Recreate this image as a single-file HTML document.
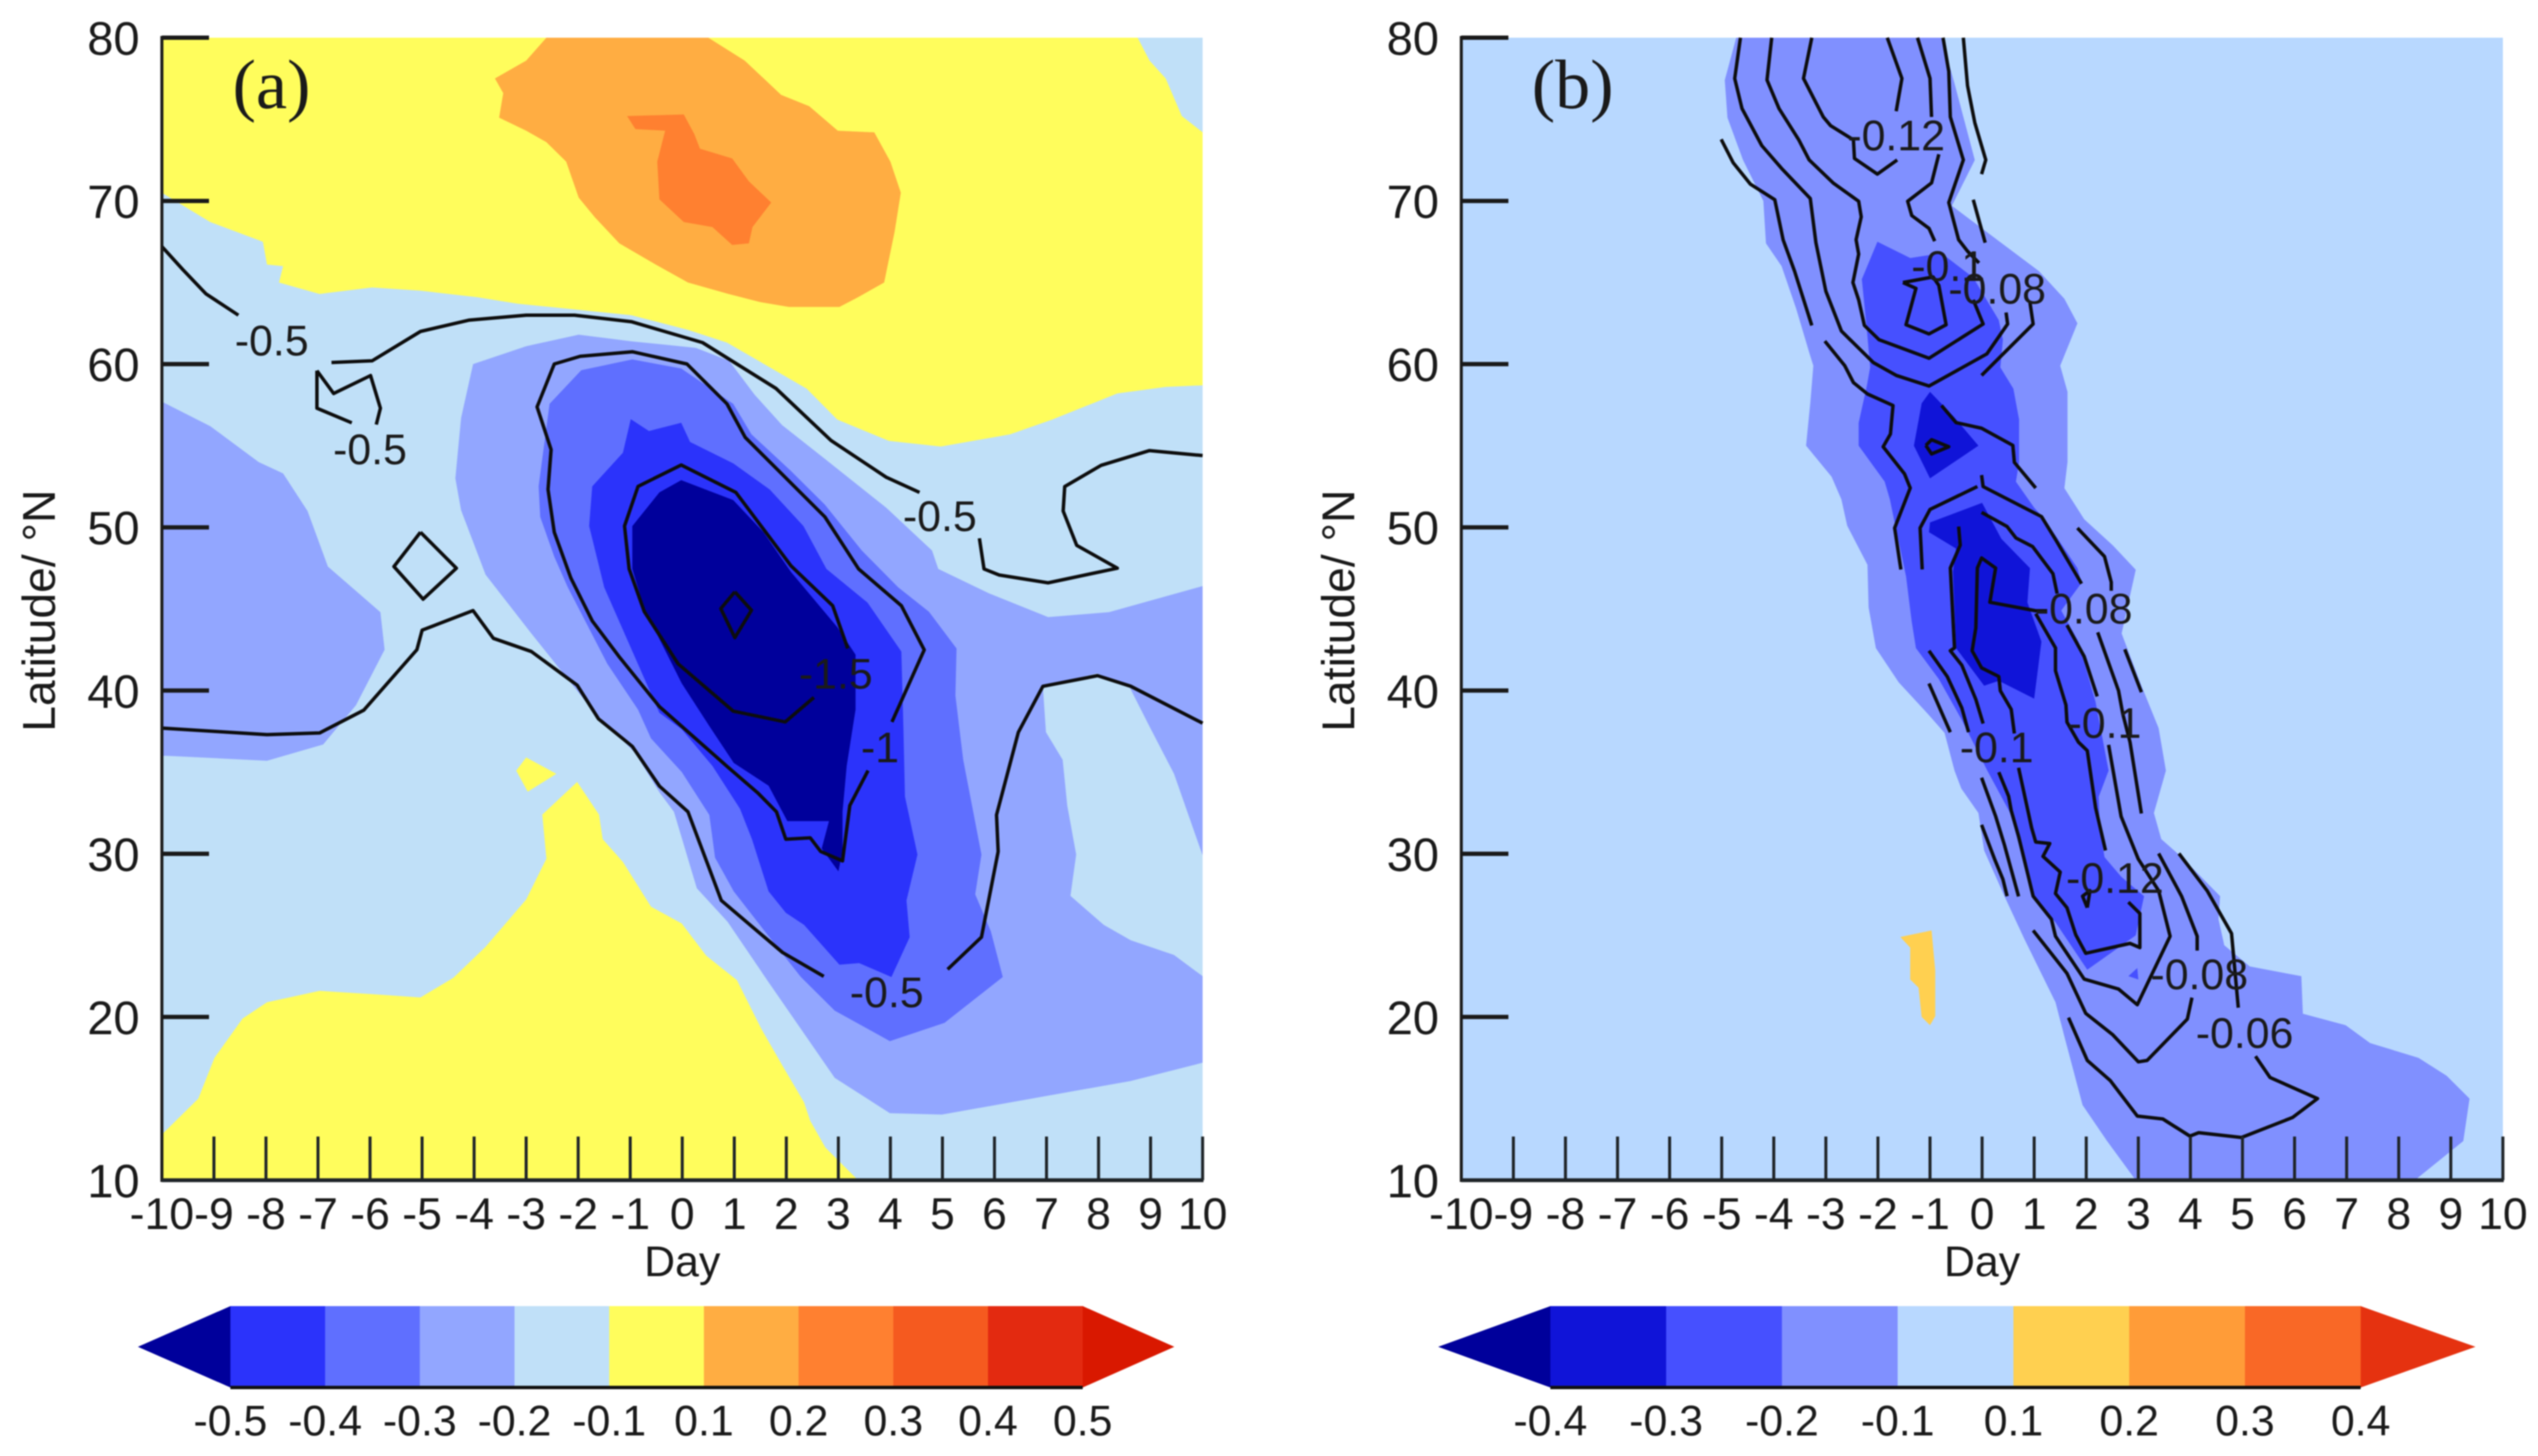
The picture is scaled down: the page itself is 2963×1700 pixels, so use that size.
<!DOCTYPE html>
<html lang="en">
<head>
<meta charset="utf-8">
<title>Latitude-day composite panels</title>
<style>
html,body{margin:0;padding:0;background:#fff;width:2963px;height:1700px;overflow:hidden}
svg{display:block;filter:blur(0.7px)}
text{font-family:"Liberation Sans",sans-serif;fill:#1a1a1a}
</style>
</head>
<body>
<svg id="chart" xmlns="http://www.w3.org/2000/svg" width="2963" height="1700" viewBox="0 0 2963 1700"></svg>
<script>
/* ---------- shared tick data ---------- */
const dayTicks = [-10,-9,-8,-7,-6,-5,-4,-3,-2,-1,0,1,2,3,4,5,6,7,8,9,10];
const latTicks = [80,70,60,50,40,30,20,10];

/* ---------- panel (a) filled regions: [day, latitude] ---------- */
const aYellowNorth = [[-10,70.5],[-9.07,68.7],[-8.06,67.5],[-7.98,66.1],[-7.67,66],[-7.75,65],[-6.97,64.3],[-5.96,64.7],[-5.03,64.5],[-3.94,64.1],[-3.16,63.7],[-2.23,63.4],[-0.98,63],[0.11,62.1],[0.86,61.32],[2.39,58.5],[2.98,56.6],[3.97,55.3],[4.97,54.95],[6.3,55.7],[7.11,56.6],[8.36,58.2],[9.29,58.6],[10,58.7],[10,74.2],[9.6,75.2],[9.29,77.5],[8.98,78.6],[8.75,80],[-10,80]];
const aOrange = [[0.5,80],[1.2,78.6],[1.9,76.5],[2.44,75.8],[2.99,74.3],[3.69,74.2],[4,72.4],[4.2,70.5],[4.08,68.1],[3.88,65],[3.38,64.1],[3.02,63.5],[2.05,63.5],[1.5,63.8],[0.89,64.3],[0.11,65],[-0.51,66.1],[-1.21,67.4],[-1.68,69],[-1.99,70.2],[-2.23,72.4],[-2.61,73.6],[-3,74.3],[-3.52,75.1],[-3.44,76.6],[-3.6,77.5],[-3,78.6],[-2.61,80]];
const aDeepOrange = [[-1.06,75.2],[0.03,75.3],[0.23,74.1],[0.34,73.2],[0.96,72.6],[1.28,71.2],[1.71,69.9],[1.35,68.4],[1.28,67.4],[0.96,67.3],[0.58,68.4],[0.03,68.7],[-0.44,70.1],[-0.48,72.4],[-0.33,74.3],[-0.9,74.4]];
const aYellowSouth = [[-10,12.8],[-9.3,15],[-8.99,17.5],[-8.45,19.9],[-7.98,20.9],[-6.97,21.6],[-5.96,21.4],[-5.03,21.2],[-4.4,22.4],[-3.78,24.3],[-3,27.2],[-2.61,29.7],[-2.69,32.4],[-2.02,34.4],[-1.6,32.4],[-1.53,30.9],[-1.14,29.5],[-0.6,26.76],[-0.01,25.73],[0.46,23.76],[1.05,22.26],[1.52,19.27],[1.93,17],[2.34,14.77],[2.46,13.64],[2.75,12],[3.38,10],[-10,10]];
const aYellowIslet = [[-3,35.9],[-2.42,34.9],[-2.97,33.8],[-3.19,35.1]];
const aWestBlob = [[-10,57.7],[-9.07,56.2],[-8.14,54],[-7.67,53.3],[-7.2,51],[-6.81,47.6],[-5.8,44.8],[-5.72,42.5],[-6.27,39.1],[-6.9,36.7],[-7.98,35.7],[-9.9,36],[-10,36]];
const aMainBlob = [[-4.02,60],[-3,61.1],[-1.99,61.8],[-0.98,61.4],[0.26,61],[0.9,60.2],[1.39,58.13],[1.92,56.26],[2.74,54.2],[3.92,51.2],[4.8,48.58],[4.92,47.45],[5.9,45.95],[7.03,44.5],[8.2,44.8],[10,46.4],[10,17.2],[8.62,16.08],[4.99,14.02],[3.99,14.11],[2.93,16.27],[1.63,22.27],[0.87,25.83],[0.28,27.89],[-0.16,32.57],[-0.44,33.77],[-0.91,36.2],[-1.73,38.83],[-2.9,43.5],[-3.78,47.1],[-4.25,51.05],[-4.36,53],[-4.25,56.7]];
const aEastWedge = [[6.93,40.26],[7.97,41.05],[8.59,40.25],[8.98,37.8],[9.45,34.9],[10,29.9],[10,22.5],[9.45,23.8],[8.62,24.7],[8.1,25.64],[7.46,27.42],[7.57,29.95],[7.4,32.95],[7.31,35.76],[6.99,37.45]];
const aMidBlue = [[-2.55,57.57],[-1.94,59.63],[-0.96,60.29],[-0.02,59.73],[0.98,57.57],[1.33,55.7],[2.09,53.45],[2.74,51.39],[3.45,48.58],[4.15,46.33],[4.74,44.83],[5.27,42.58],[5.25,39.69],[5.4,35.76],[5.75,29.95],[5.63,27.51],[5.93,25.26],[6.16,22.45],[5.04,19.64],[3.99,18.52],[2.93,20.39],[2.28,22.45],[1.63,25.07],[0.99,27.7],[0.63,29.76],[0.52,32.38],[-0.01,35.01],[-0.6,37.07],[-0.85,38.83],[-1.44,41.64],[-2.2,46.33],[-2.46,48.2],[-2.73,50.64],[-2.76,52.51]];
const aStrongBlue = [[-0.99,56.63],[-0.64,55.9],[-0.02,56.41],[0.15,55.23],[0.98,53.92],[1.68,52.32],[2.33,50.08],[2.77,47.45],[3.56,45.39],[4.21,42.39],[4.25,37.63],[4.28,33.51],[4.52,29.95],[4.31,27.14],[4.37,24.89],[4.02,22.45],[3.4,23.3],[3.02,23.2],[2.34,25.64],[1.99,26.39],[1.66,27.7],[1.34,30.89],[1.11,32.76],[0.58,35.38],[-0.01,37.63],[-0.44,38.64],[-1.5,46.33],[-1.79,50.08],[-1.73,52.51],[-1.14,54.57]];
const aNavy = [[-0.02,52.89],[0.98,51.67],[1.56,49.7],[2.09,47.26],[2.98,43.89],[3.33,42.2],[3.33,38.83],[3.16,35.38],[3.08,32.57],[3.08,30.14],[3,28.92],[2.68,30.32],[2.82,32],[2.02,32],[1.66,34.17],[0.99,35.57],[0.52,37.82],[-0.01,40.44],[-0.73,45],[-0.96,47.45],[-0.96,50.08],[-0.44,52.14]];

/* ---------- panel (a) contour lines ---------- */
const aLine1 = [[-10,67.2],[-9.6,65.8],[-9.15,64.3],[-8.53,63]];
const aLine2 = [[-6.74,60.1],[-5.96,60.2],[-5.03,62],[-4.09,62.7],[-3,63],[-2.07,63],[-0.98,62.6],[0.39,61.32],[1.8,58.51],[2.86,55.32],[3.92,53.07],[4.56,52.14]];
const aLine3 = [[5.71,49.33],[5.8,47.45],[6.09,47.08],[7.03,46.6],[8.36,47.5],[7.58,48.9],[7.32,51],[7.35,52.5],[8.05,53.8],[8.98,54.7],[10,54.4]];
const aLine4 = [[-7.02,59.6],[-6.7,58.2],[-5.99,59.3],[-5.8,57.3],[-5.88,56.3]];
const aLine5 = [[-7.02,59.6],[-7.02,57.3],[-6.35,56.4]];
const aLine6 = [[-5.03,49.7],[-4.34,47.5],[-4.98,45.6],[-5.54,47.6],[-5.03,49.7]];
const aLine7 = [[-10,37.7],[-7.98,37.3],[-6.97,37.4],[-6.12,38.8],[-5.1,42.5],[-5,43.7],[-4.02,44.9],[-3.63,43.2],[-2.9,42.39],[-2.02,40.33],[-1.61,38.27],[-0.96,36.58],[-0.44,34.15],[0.11,32.57],[0.75,27.14],[1.93,23.95],[2.72,22.49]];
const aLine8 = [[5.1,22.92],[5.75,24.89],[6.07,30.14],[6.04,32.38],[6.46,37.45],[6.93,40.26],[7.98,40.91],[8.62,40.26],[10,38]];
const aLine9 = [[3.57,35.1],[3.22,32.95],[3.08,29.57],[2.66,30.14],[2.46,30.98],[1.99,30.89],[1.81,32.57],[1.46,33.7],[0.86,35.36],[-0.44,39.02],[-1.2,42.02],[-1.73,44.27],[-2.14,46.89],[-2.46,49.7],[-2.58,52.32],[-2.52,54.76],[-2.79,57.38],[-2.46,60.01],[-1.96,60.48],[-0.96,60.76],[0.09,60.01],[0.86,57.57],[1.21,55.51],[2.74,50.64],[3.39,47.45],[4.21,45.2],[4.65,42.49],[4.03,38.08]];
const aLine10 = [[3.18,42.58],[2.89,45.2],[2.09,47.64],[1.03,52.14],[-0.02,53.82],[-0.85,52.51],[-1.11,50.08],[-1.02,47.45],[-0.73,44.83],[-0.08,41.64],[0.98,38.74],[1.98,38.08],[2.53,39.58]];
const aLine11 = [[1.01,46.05],[1.33,44.92],[1.01,43.24],[0.74,45.02],[1.01,46.05]];
const aLines = [aLine1,aLine2,aLine3,aLine4,aLine5,aLine6,aLine7,aLine8,aLine9,aLine10,aLine11];

/* ---------- panel (b) filled regions ---------- */
const bOuter = [[-4.72,80],[-4.94,77.4],[-4.89,75.1],[-4.59,72.5],[-4.2,70],[-4.15,67.4],[-3.85,66],[-3.57,63.4],[-3.3,60.5],[-3.24,59.9],[-3.3,57.6],[-3.38,55],[-2.89,53.1],[-2.7,51.7],[-2.59,50.1],[-2.2,47.7],[-2.18,45.1],[-2.04,42.6],[-1.6,40.5],[-1.05,38.6],[-0.72,37.4],[-0.53,35.1],[-0.4,34],[-0.07,32.5],[0.04,30.2],[0.43,27.4],[0.81,24.8],[1.41,20.9],[1.58,18.8],[1.93,14.6],[2.4,12.4],[2.95,10],[8.31,10],[9.24,12.4],[9.36,15],[8.92,16.4],[8.38,17.5],[7.45,18.4],[6.98,19.5],[6.16,20.2],[6.13,22.5],[5.14,23.1],[4.65,24.4],[4.54,26],[4.57,27.4],[3.83,29.8],[3.44,30.9],[3.3,32.5],[3.53,35.1],[3.39,37.7],[3.06,40.3],[2.68,43.5],[2.95,47.4],[2.51,48.9],[1.96,50.5],[1.58,52.4],[1.64,54],[1.64,58.3],[1.5,59.9],[1.83,62.5],[1.58,64],[1.09,65.7],[-0.58,69.7],[-0.14,72.5],[-0.53,77.2],[-0.78,80]];
const bMid = [[-2.01,67.5],[-1.38,66.5],[-0.78,66.8],[-0.17,65.3],[0.32,62.7],[0.4,61.5],[0.35,59.8],[0.6,58.5],[0.71,56.6],[0.71,54],[0.65,52.8],[1,51.2],[1.2,50.5],[1.83,47.5],[1.91,46.6],[1.52,44.9],[1.85,43],[2.18,39.3],[2.43,35.1],[2.24,33.5],[2.26,31.6],[2.35,29.8],[2.67,28.6],[3.11,27.4],[2.95,25],[2.02,22.9],[1.41,25.8],[0.98,27.4],[0.54,32.5],[0.1,35.1],[-0.39,38.2],[-0.83,40.7],[-1.27,42.6],[-1.35,44.2],[-1.46,47],[-1.66,50],[-1.77,51.7],[-1.87,52.8],[-2.37,55],[-2.37,56.4],[-2.21,58.7],[-2.15,59.8],[-2.2,61.7],[-2.31,65.2]];
const bDeepNorth = [[-1,58.3],[-1.16,57.6],[-1.31,55],[-1,53],[-0.07,55],[-0.55,56.8]];
const bDeepSouth = [[0,51.5],[-1,50.3],[-1.02,49.7],[-0.5,48.7],[-0.56,47.3],[-0.5,42.6],[0.04,40.3],[0.32,40.6],[1,39.5],[1.14,43],[0.87,45.4],[0.92,47.5],[0.37,49.3]];
const bSpeck = [[2.81,22.5],[2.98,23],[3,22.3]];
const bOrangePatch = [[-1.57,24.9],[-0.97,25.3],[-0.9,22.85],[-0.9,20.05],[-1,19.5],[-1.16,20],[-1.22,21.8],[-1.38,22.3],[-1.38,24.25]];

/* ---------- panel (b) contour lines ---------- */
const bLineA = [[-4.64,80],[-4.75,77.5],[-4.61,75.66],[-4.23,73.39],[-3.85,71.99],[-3.3,70.15],[-3.19,67.44],[-3,64.47],[-2.7,62.02],[-2.09,60.1],[-1.65,59.31],[-1.02,58.66],[0.09,60.62],[0.49,62.46],[0.46,63.16]];
const bLineB = [[-4.04,80],[-4.13,77.41],[-3.9,75.66],[-3.52,73.74],[-3.32,72.51],[-2.86,71.1],[-2.37,69.98],[-2.32,69.02],[-2.42,67.62],[-2.37,66.74],[-2.48,65],[-2.37,63.94],[-2.26,62.37],[-1.98,61.5],[-1.02,60.36],[0.02,62.46],[-0.17,63.94]];
const bLineC = [[-3.27,80],[-3.43,77.5],[-3.05,75.14],[-2.91,74.61],[-2.47,73.74],[-2.45,72.6],[-2.01,71.64],[-1.63,72.51]];
const bLineD = [[-1.82,80],[-1.54,77.5],[-1.65,75.49]];
const bLineE = [[-1.24,80],[-1,77.5],[-0.97,75.14]];
const bLineE2 = [[-0.83,72.86],[-0.97,71.1],[-1.43,69.98],[-1.35,69.1],[-1.02,68.32],[-0.91,67.53]];
const bLineF = [[-0.75,80],[-0.64,77.94],[-0.61,75.14],[-0.36,72.51],[-0.64,69.9],[-0.45,67.62],[-0.28,66.92],[-0.06,66.2]];
const bLineG = [[-0.36,80],[-0.28,77.06],[-0.14,74.79],[0.07,72.51],[-0.01,71.64]];
const bLineH = [[-0.17,70.07],[0.06,67.44]];
const bLineI = [[-5.01,73.77],[-4.78,72.34],[-4.45,71.03],[-3.98,70.07],[-3.82,67.62],[-3.6,65.69],[-3.27,62.37]];
const bLineJ = [[-3.02,61.41],[-2.64,59.92],[-2.47,58.87],[-2.2,58.17],[-1.71,57.47],[-1.76,55.72],[-1.9,54.94],[-1.49,53.28],[-1.38,52.41],[-1.68,49.96],[-1.56,47.42]];
const bLineK = [[-0.78,57.47],[-0.5,56.42],[-0.01,56.07],[0.59,55.02],[0.62,53.98],[1.03,52.41]];
const bLineCx = [[0.92,63.77],[0.98,62.46],[-0.01,59.31]];
const bLoopN = [[-1.52,65],[-1.27,64.64],[-1.46,62.41],[-1.02,61.85],[-0.69,62.41],[-0.83,64.82],[-0.94,65.34],[-1.52,65]];
const bDiamond = [[-1.08,55.02],[-0.97,55.37],[-0.64,54.94],[-0.97,54.5],[-1.08,55.02]];
const bLineL = [[-0.09,52.5],[-1,51.1],[-1.19,49.96],[-1.15,47.42]];
const bLineM = [[-0.01,53.2],[0.02,52.5],[1.14,50.66],[1.41,49.26],[1.91,46.55]];
const bLineN1 = [[-0.01,50.92],[0.48,50.05],[0.65,49.35],[0.97,48.82],[1.36,47.16],[1.44,45.94]];
const bLineN2 = [[1.25,44.89],[1.03,44.89],[0.15,45.41],[0.26,47.51],[-0.01,48.12],[-0.09,47.51],[-0.12,43.84],[-0.19,42.44],[-0.01,41.39],[0.32,40.86],[0.35,39.99],[0.56,38.85],[0.62,37.37]];
const bLineAA = [[0.7,35.27],[0.95,31.6],[1.03,30.72],[1.3,30.63],[1.17,29.84],[1.5,28.88],[1.41,27.57],[1.63,26.69],[1.8,25.03],[1.99,23.9],[2.84,24.51],[3.03,24.25],[3.03,26.34],[2.81,27.04]];
const bLineO = [[-0.45,50.05],[-0.42,48.91],[-0.61,47.51],[-0.53,42.61],[-0.61,42.44],[-0.39,41.56],[-0.12,39.46],[0.02,37.98]];
const bLineP = [[-1.02,42.44],[-0.67,40.86],[-0.39,38.94],[-0.26,37.45]];
const bLineQ = [[-1.02,40.43],[-0.61,37.45]];
const bLineR = [[1.83,49.96],[2.35,48.21],[2.48,46.64],[2.48,46.11]];
const bLineS = [[1.03,44.71],[1.41,42.61],[1.41,41.21],[1.61,39.11],[1.63,38.07],[1.85,36.84],[2.02,36.32],[2.18,32.82],[2.37,30.2]];
const bLineT = [[1.63,44.01],[1.96,42.09],[2.21,39.64]];
const bLineU = [[2.22,43.57],[2.62,39.99],[2.7,38.59],[2.84,36.84],[3.06,32.47]];
const bLineV = [[2.74,42.53],[3.06,39.9]];
const bLineW = [[2.43,36.67],[2.67,32.29],[3,29.67],[3.39,27.74],[3.61,24.95],[2.98,20.75],[2.62,21.71],[1.96,22.32],[1.41,24.95],[1.33,25.99],[0.98,27.4],[0.7,31.07],[0.56,32.65],[0.51,33.52],[0.32,35]];
const bLineX = [[-0.01,34.66],[0.26,32.3],[0.43,30.54],[0.7,27.39]];
const bLineZ = [[-0.01,31.77],[0.24,29.67],[0.4,28.44],[0.48,27.4]];
const bLineE3 = [[0.98,25.3],[1.63,22.67],[1.99,20.22],[2.51,18.91],[3,17.25],[3.17,17.34],[3.94,19.87],[4.03,21.19]];
const bLineF2 = [[1.66,19.96],[2.02,17.34],[2.46,16.11],[2.98,13.93],[3.47,13.75],[3.99,12.7],[4.16,12.91],[4.98,12.62],[5.96,13.84],[6.44,15],[5.53,16.29],[5.25,17.6]];
const bLineJ2 = [[3.39,30.02],[3.83,27.4],[4.13,24.95],[4.13,24.07]];
const bLineK2 = [[3.78,30.02],[4.32,27.74],[4.79,25.12],[4.92,20.57]];
const bLoopSmall = [[2.02,26.7],[1.93,27.4],[2.07,27.74],[2.02,26.7]];
const bLines = [bLineA,bLineB,bLineC,bLineD,bLineE,bLineE2,bLineF,bLineG,bLineH,bLineI,bLineJ,bLineK,bLineCx,bLoopN,bDiamond,bLineL,bLineM,bLineN1,bLineN2,bLineAA,bLineO,bLineP,bLineQ,bLineR,bLineS,bLineT,bLineU,bLineV,bLineW,bLineX,bLineZ,bLineE3,bLineF2,bLineJ2,bLineK2,bLoopSmall];

/* ---------- contour label values and anchors [day, latitude] ---------- */
const aLabelText = ['-0.5','-0.5','-0.5','-1.5','-1','-0.5'];
const aLabelAt = [[-7.89,61.43],[-6,54.76],[4.95,50.67],[2.95,41],[3.8,36.5],[3.93,21.5]];
const bLabelText = ['-0.12','-0.1','-0.08','-0.08','-0.1','-0.1','-0.12','-0.08','-0.06'];
const bLabelAt = [[-1.65,74],[-0.65,66],[0.29,64.6],[1.95,45],[0.28,36.5],[2.35,38],[2.55,28.5],[4.17,22.6],[5.04,19]];

/* ---------- colour bar levels ---------- */
const aLevels = ['-0.5','-0.4','-0.3','-0.2','-0.1','0.1','0.2','0.3','0.4','0.5'];
const bLevels = ['-0.4','-0.3','-0.2','-0.1','0.1','0.2','0.3','0.4'];

/* ---------- rendering ---------- */
const SVGNS = 'http://www.w3.org/2000/svg';
const svg = document.getElementById('chart');
const aPalette = ['#00009b','#2b33fb','#5f6fff','#92a6ff','#c0e0f8','#fffd5c','#ffad42','#ff8030','#f55a1f','#e32a10','#d91800'];
const bPalette = ['#00009b','#1014d8','#4650ff','#8090ff','#b8d8ff','#ffd050','#ff9c38','#f96826','#e53210'];

function node(tag, parent, props) {
  const el = document.createElementNS(SVGNS, tag);
  for (const k in props) el.setAttribute(k, props[k]);
  parent.appendChild(el);
  return el;
}

function drawPanel(p) {
  const xOf = d => p.left + (d + 10) * (p.right - p.left) / 20;
  const yOf = l => p.bottom - (l - 10) * (p.bottom - p.top) / 70;
  const toPts = arr => arr.map(q => xOf(q[0]).toFixed(1) + ',' + yOf(q[1]).toFixed(1)).join(' ');

  const g = node('g', svg, {});
  
  

  const bg = node('rect', g, {x:p.left, y:p.top, width:p.right - p.left, height:p.bottom - p.top, fill:p.background});
  
  

  p.fills.forEach(f => {
    const poly = node('polygon', g, {points:toPts(f.pts), fill:f.color});
    
    
  });

  p.lines.forEach((ln, i) => {
    const line = node('polyline', g, {points:toPts(ln), fill:'none', stroke:'#0d0d0d', 'stroke-width':4, 'stroke-linejoin':'round'});
    
    
  });

  p.labelText.forEach((t, i) => {
    const lab = node('text', g, {x:xOf(p.labelAt[i][0]), y:yOf(p.labelAt[i][1]), 'font-size':50, 'text-anchor':'middle', 'dominant-baseline':'central'});
    lab.textContent = t;
    
    
  });

  latTicks.forEach(l => {
    if (l !== 10) {
      const tick = node('line', g, {x1:p.left, x2:p.left + 55, y1:yOf(l), y2:yOf(l), stroke:'#1a1a1a', 'stroke-width':5});
      
      
    }
    const lab = node('text', g, {x:p.left - 26, y:yOf(l) + 20, 'font-size':55, 'text-anchor':'end'});
    lab.textContent = String(l);
    
    
  });

  dayTicks.forEach(d => {
    if (d !== -10) {
      const tick = node('line', g, {x1:xOf(d), x2:xOf(d), y1:p.bottom, y2:p.bottom - 51, stroke:'#1f2428', 'stroke-width':3.5});
      
      
    }
    const lab = node('text', g, {x:xOf(d), y:1435, 'font-size':52, 'text-anchor':'middle'});
    lab.textContent = String(d);
    
    
  });

  const yAxis = node('line', g, {x1:p.left, x2:p.left, y1:p.top - 2, y2:p.bottom + 2, stroke:'#1a1a1a', 'stroke-width':3.5});
  
  
  const xAxis = node('line', g, {x1:p.left, x2:p.right + 1, y1:p.bottom, y2:p.bottom, stroke:'#1f2428', 'stroke-width':4.5});
  
  

  const xTitle = node('text', g, {x:(p.left + p.right) / 2, y:1490, 'font-size':50, 'text-anchor':'middle'});
  xTitle.textContent = 'Day';
  
  

  const yTitle = node('text', g, {x:0, y:0, 'font-size':54, 'text-anchor':'middle', transform:'translate(' + p.yTitleX + ',713) rotate(-90)'});
  yTitle.textContent = 'Latitude/ °N';
  
  

  const tag = node('text', g, {x:p.tagX, y:126, 'font-size':82, 'text-anchor':'middle'});
  tag.style.fontFamily = '"Liberation Serif", serif';
  tag.textContent = p.tag;
  
  

  /* colour bar */
  const top = 1525, bot = 1620, mid = (top + bot) / 2, n = p.levels.length;
  const barX = i => p.barLeft + i * (p.barRight - p.barLeft) / (n - 1);
  const cb = node('g', g, {});
  
  

  const lowTip = node('polygon', cb, {points:[p.tipLeft + ',' + mid, p.barLeft + ',' + top, p.barLeft + ',' + bot].join(' '), fill:p.palette[0]});
  
  
  for (let i = 0; i < n - 1; i++) {
    const seg = node('rect', cb, {x:barX(i), y:top, width:barX(i + 1) - barX(i) + 0.5, height:bot - top, fill:p.palette[i + 1]});
    
    
  }
  const highTip = node('polygon', cb, {points:[p.tipRight + ',' + mid, p.barRight + ',' + top, p.barRight + ',' + bot].join(' '), fill:p.palette[n]});
  
  
  const cbLine = node('line', cb, {x1:p.barLeft, x2:p.barRight, y1:bot, y2:bot, stroke:'#111', 'stroke-width':4});
  
  
  p.levels.forEach((t, i) => {
    const lab = node('text', cb, {x:barX(i), y:1676, 'font-size':50, 'text-anchor':'middle'});
    lab.textContent = t;
    
    
  });
}

drawPanel({
  id:'a', tag:'(a)', tagX:317, yTitleX:64, left:189, right:1404, top:44, bottom:1378,
  background:aPalette[4], palette:aPalette, levels:aLevels,
  barLeft:269, barRight:1264, tipLeft:161, tipRight:1371,
  labelText:aLabelText, labelAt:aLabelAt, lines:aLines,
  fills:[
    {name:'west-weak-negative', pts:aWestBlob, color:aPalette[3]},
    {name:'main-weak-negative', pts:aMainBlob, color:aPalette[3]},
    {name:'east-wedge', pts:aEastWedge, color:aPalette[4]},
    {name:'moderate-negative', pts:aMidBlue, color:aPalette[2]},
    {name:'strong-negative', pts:aStrongBlue, color:aPalette[1]},
    {name:'core-negative', pts:aNavy, color:aPalette[0]},
    {name:'north-weak-positive', pts:aYellowNorth, color:aPalette[5]},
    {name:'south-weak-positive', pts:aYellowSouth, color:aPalette[5]},
    {name:'positive-islet', pts:aYellowIslet, color:aPalette[5]},
    {name:'moderate-positive', pts:aOrange, color:aPalette[6]},
    {name:'strong-positive', pts:aDeepOrange, color:aPalette[7]}
  ]
});

drawPanel({
  id:'b', tag:'(b)', tagX:1836, yTitleX:1581, left:1706, right:2922, top:44, bottom:1378,
  background:bPalette[4], palette:bPalette, levels:bLevels,
  barLeft:1810, barRight:2756, tipLeft:1679, tipRight:2890,
  labelText:bLabelText, labelAt:bLabelAt, lines:bLines,
  fills:[
    {name:'weak-negative', pts:bOuter, color:bPalette[3]},
    {name:'moderate-negative', pts:bMid, color:bPalette[2]},
    {name:'north-core', pts:bDeepNorth, color:bPalette[1]},
    {name:'south-core', pts:bDeepSouth, color:bPalette[1]},
    {name:'speck', pts:bSpeck, color:bPalette[2]},
    {name:'positive-patch', pts:bOrangePatch, color:bPalette[5]}
  ]
});
</script>
</body>
</html>
